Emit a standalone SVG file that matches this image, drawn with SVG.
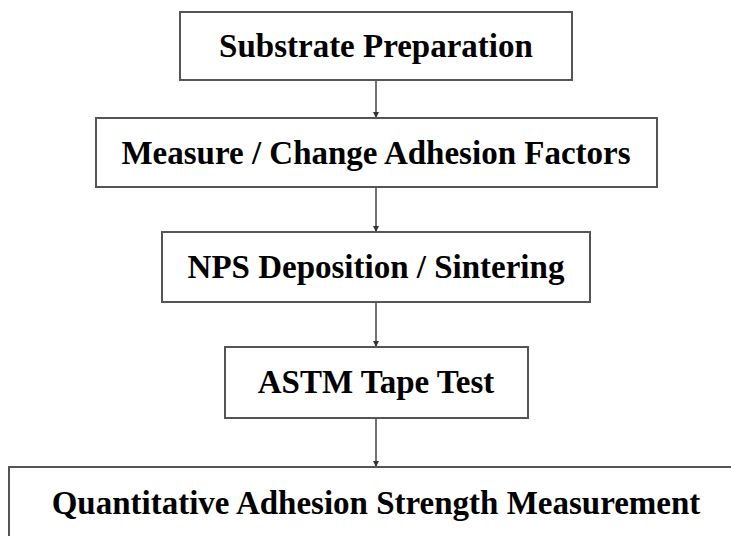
<svg xmlns="http://www.w3.org/2000/svg" width="731" height="536" viewBox="0 0 731 536">
<style>
.box{fill:#fff;stroke:#555;stroke-width:2}
.t{font-family:"Liberation Serif","Times New Roman",serif;font-weight:bold;font-size:33px;fill:#000;text-anchor:middle}
.c{stroke:#444;stroke-width:1.5;fill:none;marker-end:url(#ah)}
</style>
<defs>
<marker id="ah" viewBox="0 0 10 10" refX="10" refY="5" markerWidth="6" markerHeight="6" markerUnits="userSpaceOnUse" orient="auto">
<path d="M0,0 L10,5 L0,10 z" fill="#333"/>
</marker>
</defs>
<rect width="731" height="536" fill="#fff"/>
<g id="connectors">
<line class="c" x1="376" y1="80" x2="376" y2="118"/>
<line class="c" x1="376" y1="187" x2="376" y2="232"/>
<line class="c" x1="376" y1="302" x2="376" y2="347"/>
<line class="c" x1="376" y1="418" x2="376" y2="467"/>
</g>
<g id="n1"><rect class="box" x="180" y="12" width="392" height="68"/><text class="t" x="376" y="57">Substrate Preparation</text></g>
<g id="n2"><rect class="box" x="96" y="118" width="561" height="69"/><text class="t" x="376" y="164">Measure / Change Adhesion Factors</text></g>
<g id="n3"><rect class="box" x="162" y="232" width="428" height="70"/><text class="t" x="376" y="278">NPS Deposition / Sintering</text></g>
<g id="n4"><rect class="box" x="225" y="347" width="303" height="71"/><text class="t" x="376" y="393">ASTM Tape Test</text></g>
<g id="n5"><rect class="box" x="9" y="467" width="740" height="90"/><text class="t" x="376" y="514">Quantitative Adhesion Strength Measurement</text></g>
</svg>
